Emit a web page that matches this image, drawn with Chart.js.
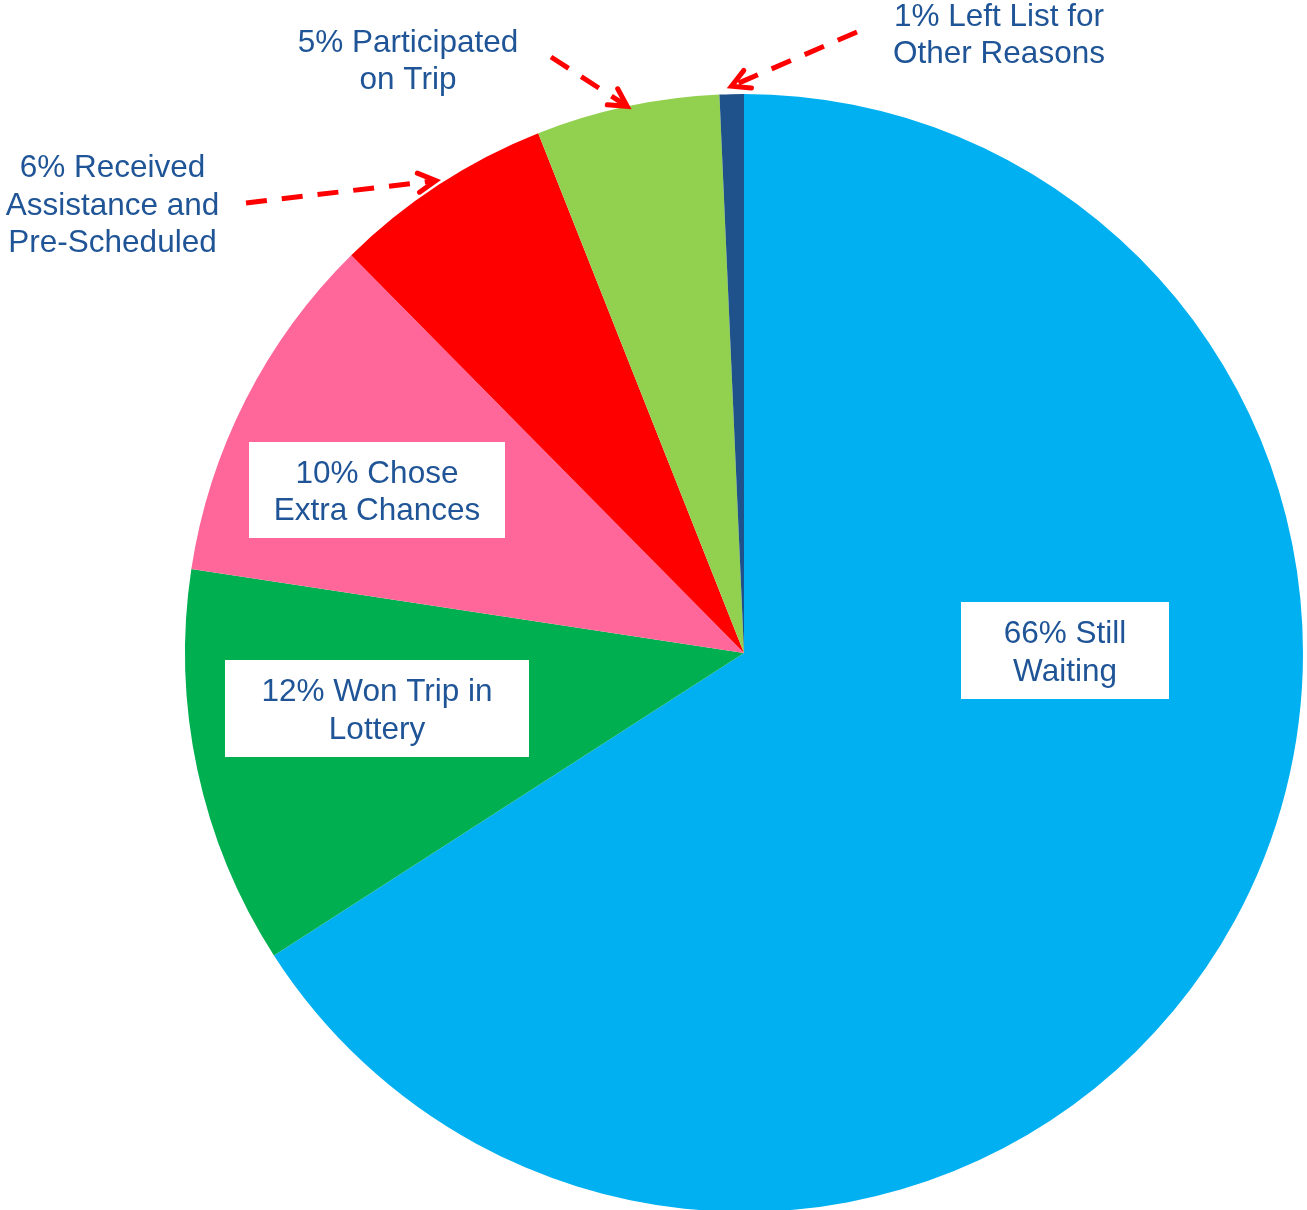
<!DOCTYPE html>
<html><head><meta charset="utf-8">
<script src="https://cdn.jsdelivr.net/npm/chart.js@4"></script>
<style>html,body{margin:0;padding:0;background:#fff;overflow:hidden;width:1307px;height:1210px}
canvas{display:block}</style></head>
<body><canvas id="c" width="1307" height="1222"></canvas>
<script>
// ---- data ----
const categories = ['Still Waiting','Won Trip in Lottery','Chose Extra Chances','Received Assistance and Pre-Scheduled','Participated on Trip','Left List for Other Reasons'];
const values = [65.9, 11.5, 10.2, 6.4, 5.3, 0.7];
const labelLines = [
  ['66% Still','Waiting'],
  ['12% Won Trip in','Lottery'],
  ['10% Chose','Extra Chances'],
  ['6% Received','Assistance and','Pre-Scheduled'],
  ['5% Participated','on Trip'],
  ['1% Left List for','Other Reasons']
];
// ---- styles / layout ----
const colors = ['#00B0F0','#00B050','#FF6699','#FF0000','#92D050','#1F518B'];
const textColor = '#1F5496';
const labelLayout = [
  {x:1065, y:650.5, box:[208,97]},
  {x:377,  y:708.5, box:[304,97]},
  {x:377,  y:490,   box:[256,96]},
  {x:112.5,y:203.5, arrowFrom:[246,203], tipGap:5},
  {x:408,  y:59,    arrowFrom:[551,57],  tipGap:0},
  {x:999,  y:33,    arrowFrom:[857,32],  tipGap:8}
];

const labelPlugin = {
  id:'sliceLabels',
  afterDraw(chart){
    const ctx = chart.ctx;
    const meta = chart.getDatasetMeta(0);
    ctx.save();
    const lh = 37.5, cap = 22.5;
    labelLayout.forEach((L,i)=>{
      if (L.box){
        ctx.fillStyle = '#fff';
        ctx.fillRect(L.x - L.box[0]/2, L.y - L.box[1]/2, L.box[0], L.box[1]);
      }
      if (L.arrowFrom){
        const arc = meta.data[i];
        const mid = (arc.startAngle + arc.endAngle)/2;
        const r = arc.outerRadius + L.tipGap;
        const tx = arc.x + Math.cos(mid)*r, ty = arc.y + Math.sin(mid)*r;
        const [sx, sy] = L.arrowFrom;
        const ang = Math.atan2(ty - sy, tx - sx);
        ctx.strokeStyle = '#FF0000';
        ctx.lineWidth = 5;
        ctx.lineCap = 'butt';
        ctx.setLineDash([21,15]);
        ctx.beginPath(); ctx.moveTo(sx, sy);
        ctx.lineTo(tx - 3*Math.cos(ang), ty - 3*Math.sin(ang)); ctx.stroke();
        ctx.setLineDash([]);
        const hl = 20, ha = 0.5;
        ctx.lineJoin = 'miter';
        ctx.lineCap = 'round';
        ctx.beginPath();
        ctx.moveTo(tx - hl*Math.cos(ang - ha), ty - hl*Math.sin(ang - ha));
        ctx.lineTo(tx, ty);
        ctx.lineTo(tx - hl*Math.cos(ang + ha), ty - hl*Math.sin(ang + ha));
        ctx.stroke();
      }
      ctx.font = '31.5px "Liberation Sans", Arial, sans-serif';
      ctx.textAlign = 'center';
      ctx.textBaseline = 'alphabetic';
      ctx.fillStyle = textColor;
      const lines = labelLines[i];
      lines.forEach((t,k)=>{
        ctx.fillText(t, L.x, L.y + cap/2 + (k - (lines.length-1)/2)*lh);
      });
    });
    ctx.restore();
  }
};

new Chart(document.getElementById('c'), {
  type:'pie',
  data:{
    labels: categories,
    datasets:[{data: values, backgroundColor: colors, borderWidth: 0, hoverOffset: 0}]
  },
  options:{
    responsive:false,
    animation:false,
    layout:{padding:{top:94,left:185,right:4,bottom:10}},
    plugins:{legend:{display:false}, tooltip:{enabled:false}},
    events:[]
  },
  plugins:[labelPlugin]
});
</script>
</body></html>
